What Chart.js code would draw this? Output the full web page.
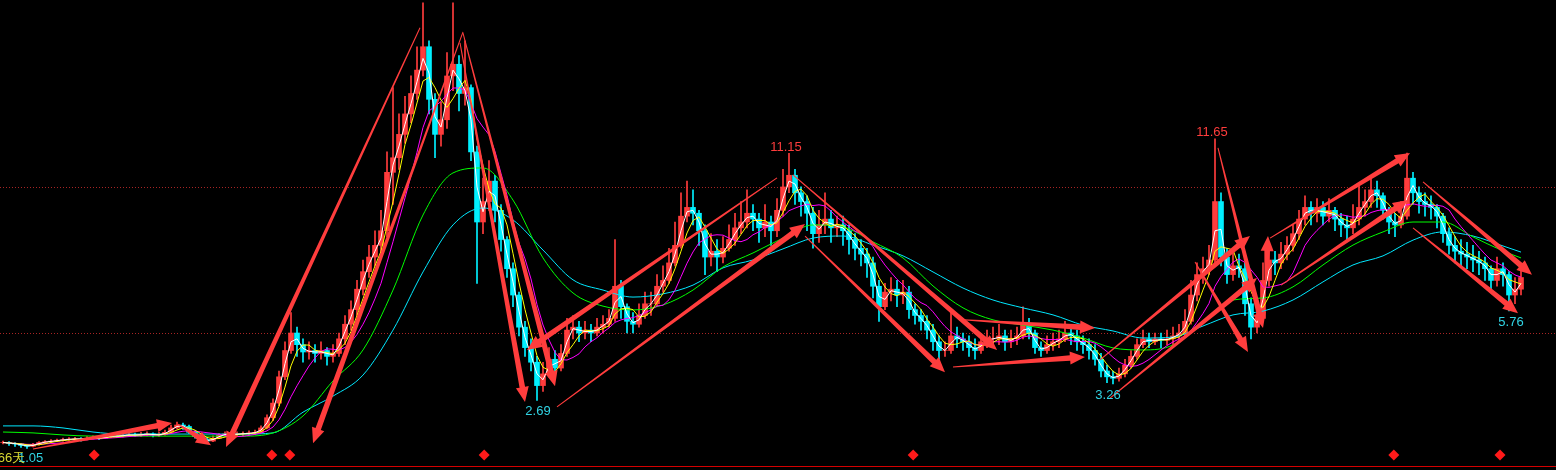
<!DOCTYPE html>
<html>
<head>
<meta charset="utf-8">
<script src="https://cdn.jsdelivr.net/npm/chart.js@4"></script>
<style>
html, body { margin: 0; padding: 0; background: #000; overflow: hidden; }
</style>
</head>
<body>
<canvas id="myChart" width="1556" height="470"></canvas>
<script>
// candle closes, one per bar (open = previous close)
const closes = [
  1.25,1.22,1.2,1.15,1.12,1.18,1.25,1.28,1.3,1.33,
  1.35,1.37,1.38,1.36,1.4,1.42,1.4,1.45,1.48,1.47,
  1.5,1.52,1.5,1.53,1.55,1.5,1.52,1.6,1.75,1.85,
  1.8,1.6,1.45,1.35,1.3,1.4,1.5,1.55,1.52,1.55,
  1.55,1.58,1.6,1.75,2.1,2.6,3.5,4.4,5.0,4.6,
  4.35,4.4,4.3,4.4,4.2,4.3,4.8,5.3,5.8,6.5,
  7.1,7.6,8.0,8.5,10.5,11.0,11.8,12.5,13.2,14.0,
  14.8,13.0,11.8,12.3,13.8,14.2,13.2,13.4,11.2,8.8,
  9.5,10.2,9.2,8.2,7.2,6.3,5.2,4.5,4.0,3.2,
  3.6,4.1,3.8,4.3,5.1,5.2,5.0,5.1,5.0,5.2,
  5.3,5.5,6.6,5.9,5.4,5.3,5.6,6.0,6.0,6.6,
  6.8,7.4,8.0,9.0,9.3,9.1,8.5,7.6,7.8,7.6,
  7.9,8.2,8.6,8.8,9.1,8.9,8.6,8.8,8.5,9.2,
  10.0,10.4,9.8,9.5,9.1,8.4,8.7,8.9,8.6,8.7,
  8.5,8.2,7.9,7.7,7.4,6.6,5.9,6.4,6.5,6.3,
  6.4,5.8,5.6,5.4,5.1,4.7,4.4,4.4,4.9,4.8,
  4.7,4.5,4.4,4.7,4.8,4.8,4.9,4.7,4.8,4.9,
  5.3,5.0,4.5,4.4,4.6,4.7,4.8,5.0,4.9,4.7,
  4.6,4.4,4.1,3.7,3.5,3.45,3.6,3.9,4.2,4.6,
  4.8,4.7,4.8,4.75,4.8,4.9,5.0,5.4,6.3,7.0,
  7.2,7.5,9.5,7.6,7.0,7.3,7.2,6.0,5.2,5.5,
  6.8,7.5,7.4,7.7,8.0,8.4,8.9,9.3,9.1,9.3,
  9.0,9.2,8.9,8.7,8.6,8.9,9.3,9.5,9.9,9.7,
  9.2,8.8,8.7,9.0,10.3,9.8,9.5,9.4,9.3,9.0,
  8.4,8.0,7.8,7.7,7.6,7.5,7.4,7.2,6.8,7.2,
  7.0,6.3,6.5,6.9
];
const highs = [
  1.3,1.28,1.25,1.22,1.18,1.22,1.28,1.32,1.35,1.37,
  1.4,1.42,1.43,1.42,1.45,1.48,1.46,1.5,1.54,1.52,
  1.56,1.58,1.57,1.6,1.62,1.58,1.6,1.68,1.85,1.95,
  1.92,1.85,1.65,1.5,1.42,1.48,1.56,1.62,1.6,1.62,
  1.62,1.65,1.68,1.82,2.2,2.75,3.7,4.7,5.7,5.2,
  4.8,4.7,4.6,4.7,4.5,4.6,5.0,5.6,6.1,6.8,
  7.5,8.0,8.5,9.2,11.2,13.4,12.5,13.1,13.8,14.8,
  16.3,15.0,13.2,12.9,14.6,16.3,14.5,15.0,13.5,11.4,
  10.3,10.9,10.4,9.4,8.3,7.4,6.4,5.4,4.8,4.2,
  4.0,4.5,4.4,4.6,5.5,5.6,5.4,5.4,5.3,5.5,
  5.6,5.8,8.2,6.8,6.0,5.7,6.0,6.4,6.4,7.0,
  7.3,7.9,8.8,9.8,10.2,9.9,9.2,8.7,8.4,8.2,
  8.3,8.7,9.1,9.5,9.9,9.4,9.1,9.4,9.0,9.6,
  10.6,11.15,10.6,10.0,9.7,9.3,9.2,9.8,9.2,9.0,
  9.0,8.7,8.4,8.2,7.9,7.6,6.8,6.7,6.9,6.8,
  6.8,6.6,6.0,5.8,5.6,5.3,4.9,4.7,5.7,5.2,
  5.0,4.9,4.8,4.9,5.1,5.2,5.3,5.1,5.1,5.2,
  5.9,5.5,5.1,4.7,4.9,5.0,5.1,5.4,5.3,5.1,
  4.9,4.8,4.6,4.3,3.9,3.7,3.8,4.1,4.4,4.8,
  5.1,5.0,5.0,5.0,5.1,5.2,5.3,5.8,6.8,7.4,
  7.6,8.0,11.65,9.8,7.9,7.8,7.7,7.4,6.2,5.9,
  7.4,7.9,7.8,8.1,8.3,8.7,9.2,9.7,9.5,9.6,
  9.5,9.6,9.3,9.1,9.0,9.4,10.1,9.9,10.3,10.2,
  9.8,9.3,9.1,9.5,11.16,10.5,10.0,9.8,9.7,9.4,
  9.1,8.6,8.3,8.2,8.1,8.0,7.8,7.6,7.3,7.6,
  7.4,7.1,6.9,7.3
];
const lows = [
  1.2,1.15,1.12,1.08,1.05,1.1,1.16,1.22,1.25,1.28,
  1.3,1.32,1.33,1.3,1.34,1.37,1.35,1.38,1.42,1.42,
  1.44,1.46,1.45,1.46,1.48,1.44,1.46,1.5,1.58,1.72,
  1.7,1.55,1.4,1.28,1.22,1.28,1.38,1.46,1.45,1.48,
  1.48,1.5,1.52,1.58,1.72,2.0,2.5,3.4,4.3,4.2,
  4.0,4.1,4.0,4.1,3.9,4.0,4.2,4.6,5.1,5.6,
  6.3,6.9,7.3,7.7,8.3,9.4,10.6,11.5,12.2,13.0,
  13.8,12.5,11.0,11.4,12.0,13.3,12.6,12.8,10.9,6.7,
  8.4,9.2,8.8,7.8,6.9,5.9,4.9,4.2,3.7,2.69,
  3.0,3.5,3.5,3.7,4.2,4.8,4.7,4.8,4.7,4.9,
  5.0,5.2,5.4,5.5,5.0,5.0,5.2,5.5,5.6,5.9,
  6.4,6.7,7.3,7.9,8.8,8.7,8.0,7.0,7.3,7.1,
  7.4,7.8,8.0,8.4,8.6,8.5,8.1,8.3,8.0,8.3,
  9.0,9.8,9.4,9.0,8.5,7.9,8.1,8.4,8.1,8.3,
  8.0,7.7,7.5,7.3,6.9,6.2,5.4,5.8,6.1,5.9,
  6.0,5.5,5.3,5.1,4.8,4.4,4.1,4.2,4.3,4.5,
  4.4,4.2,4.1,4.3,4.5,4.5,4.6,4.4,4.5,4.6,
  4.8,4.8,4.3,4.2,4.3,4.4,4.5,4.7,4.6,4.4,
  4.3,4.1,3.9,3.5,3.3,3.26,3.35,3.5,3.8,4.1,
  4.5,4.5,4.6,4.5,4.6,4.6,4.8,4.9,5.3,6.1,
  6.7,7.0,7.3,7.3,6.7,6.8,6.9,5.6,4.8,5.0,
  5.4,6.6,7.0,7.2,7.5,7.8,8.2,8.7,8.7,8.8,
  8.7,8.8,8.5,8.3,8.2,8.4,8.7,9.0,9.3,9.3,
  8.9,8.4,8.3,8.6,8.9,9.4,9.1,9.0,8.9,8.6,
  8.1,7.7,7.4,7.3,7.2,7.1,7.0,6.8,6.4,6.6,
  6.6,5.76,6.0,6.3
];

// short moving averages (in bars), computed from closes
const maPeriods = [2, 4, 8];
const maColors = ['#ffffff', '#ffff00', '#ff00ff'];

// the two slow averages at these bar indexes
const slowIdx = [
  0,5,10,15,20,25,30,35,40,45,
  50,55,60,65,70,75,80,85,90,95,
  100,105,110,115,120,125,130,135,140,145,
  150,155,160,165,170,175,180,185,190,195,
  200,205,210,215,220,225,230,235,240,245,
  250,253
];
const greenLine = [
  1.61,1.58,1.51,1.47,1.47,1.47,1.47,1.47,1.47,1.58,
  2.16,3.36,4.42,6.47,9.04,10.48,10.65,9.55,7.57,6.37,
  5.92,5.79,5.96,6.47,7.26,7.74,8.25,8.70,8.63,8.12,
  7.57,6.61,5.86,5.45,5.27,5.10,4.83,4.49,4.42,4.59,
  5.38,6.13,6.20,6.58,7.33,8.01,8.46,8.80,8.80,8.29,
  7.81,7.57
];
const cyanLine = [
  1.82,1.82,1.75,1.61,1.54,1.54,1.54,1.54,1.54,1.58,
  2.29,2.84,3.56,5.10,7.09,8.70,9.28,8.87,7.84,6.82,
  6.47,6.23,6.34,6.64,7.23,7.50,7.88,8.25,8.32,8.01,
  7.64,7.09,6.54,6.13,5.86,5.62,5.27,5.07,4.83,4.86,
  5.24,5.62,5.75,6.13,6.75,7.33,7.64,8.18,8.46,8.32,
  7.98,7.77
];

// red diamond markers along the bottom (bar index), price level they sit at
const diamondIdx = [15.2, 44.8, 47.8, 80.2, 151.7, 231.8, 249.5];
const diamondPrice = 0.82;

// dotted price lines and the bottom border line
const gridPrices = [5, 10];
const baseLinePrice = 0.45;

// hand drawn arrows: [bar index, price] from tail to head
const arrowFrom = [
  [5.0, 1.03], [29.17, 1.88], [69.5, 15.45], [76.67, 15.31], [76.67, 15.27],
  [76.17, 14.93], [129.0, 10.31], [92.33, 2.47], [131.67, 10.41], [133.67, 8.32],
  [160.0, 5.45], [158.33, 3.84], [182.83, 4.08], [184.5, 2.77], [202.5, 11.34],
  [198.67, 7.43], [210.33, 6.47], [211.17, 8.25], [213.0, 6.64], [236.67, 10.17],
  [235.0, 8.60]
];
const arrowTo = [
  [28.17, 1.92], [34.67, 1.16], [37.17, 1.10], [51.67, 1.23], [92.0, 3.18],
  [87.0, 2.64], [87.33, 4.42], [133.67, 8.73], [165.67, 4.42], [157.0, 3.66],
  [182.0, 5.17], [180.33, 4.18], [207.83, 8.32], [209.0, 6.88], [210.0, 5.17],
  [207.5, 4.35], [210.83, 8.32], [234.5, 11.16], [234.17, 9.55], [254.83, 6.99],
  [252.5, 5.68]
];

// price labels
const labelTexts = ['11.15', '11.65', '2.69', '3.26', '5.76', '1.05', '66天'];
const labelIdx = [130.5, 201.5, 89.17, 184.17, 251.33, 4.6, 1.4];
const labelPrice = [11.35, 11.87, 2.31, 2.86, 5.36, 0.70, 0.70];
const labelColors = ['#ff3c3c', '#ff3c3c', '#30d4e4', '#30d4e4', '#30d4e4', '#30d4e4', '#d8d832'];

const UP = '#ff3c3c';
const DOWN = '#00f0ff';

const opens = closes.map((c, i) => i === 0 ? c : closes[i - 1]);
const candleColors = closes.map((c, i) => c >= opens[i] ? UP : DOWN);
const bodies = closes.map((c, i) => ({ x: i, y: [opens[i], c] }));
const wicks = closes.map((c, i) => ({
  x: i,
  y: [Math.min(lows[i], opens[i], c), Math.max(highs[i], opens[i], c)]
}));

movingAvg = (arr, n) => arr.map((v, i) => {
  const s = arr.slice(Math.max(0, i - n + 1), i + 1);
  return s.reduce((a, b) => a + b, 0) / s.length;
});

const maSets = maPeriods.map((n, k) => ({
  type: 'line',
  label: 'MA' + n,
  data: movingAvg(closes, n).map((y, i) => ({ x: i, y })),
  borderColor: maColors[k],
  borderWidth: 1,
  pointRadius: 0,
  tension: 0,
  order: 1 + k
}));

slowSet = (vals, color, order) => ({
  type: 'line',
  label: 'slow',
  data: vals.map((y, k) => ({ x: slowIdx[k], y })),
  borderColor: color,
  borderWidth: 1,
  pointRadius: 0,
  cubicInterpolationMode: 'monotone',
  order
});

drawArrow = (c, x1, y1, x2, y2) => {
  const dx = x2 - x1, dy = y2 - y1, len = Math.hypot(dx, dy);
  const ux = dx / len, uy = dy / len, nx = -uy, ny = ux;
  const head = 15, headW = 6.5, shaftW = 2.8;
  const bx = x2 - ux * head, by = y2 - uy * head;
  c.beginPath();
  c.moveTo(x1 + nx * 0.5, y1 + ny * 0.5);
  c.lineTo(bx + nx * shaftW, by + ny * shaftW);
  c.lineTo(bx + nx * headW, by + ny * headW);
  c.lineTo(x2, y2);
  c.lineTo(bx - nx * headW, by - ny * headW);
  c.lineTo(bx - nx * shaftW, by - ny * shaftW);
  c.lineTo(x1 - nx * 0.5, y1 - ny * 0.5);
  c.closePath();
  c.fill();
};

const backdrop = {
  id: 'backdrop',
  beforeDraw: (chart) => {
    const c = chart.ctx;
    const yS = chart.scales.y;
    c.save();
    c.fillStyle = '#000';
    c.fillRect(0, 0, chart.width, chart.height);
    c.strokeStyle = '#a82424';
    c.lineWidth = 1;
    c.setLineDash([1, 2]);
    gridPrices.forEach(p => {
      const y = Math.round(yS.getPixelForValue(p)) + 0.5;
      c.beginPath(); c.moveTo(0, y); c.lineTo(chart.width, y); c.stroke();
    });
    c.setLineDash([]);
    c.strokeStyle = '#d40000';
    const yb = Math.round(yS.getPixelForValue(baseLinePrice)) + 0.5;
    c.beginPath(); c.moveTo(0, yb); c.lineTo(chart.width, yb); c.stroke();
    c.restore();
  }
};

const annotations = {
  id: 'annotations',
  afterDatasetsDraw: (chart) => {
    const c = chart.ctx;
    const xS = chart.scales.x, yS = chart.scales.y;
    c.save();
    c.fillStyle = '#ff3d3d';
    arrowFrom.forEach((a, k) => {
      const b = arrowTo[k];
      drawArrow(c, xS.getPixelForValue(a[0]), yS.getPixelForValue(a[1]),
                   xS.getPixelForValue(b[0]), yS.getPixelForValue(b[1]));
    });
    c.font = '13px "Liberation Sans", Arial, sans-serif';
    c.textAlign = 'center';
    c.textBaseline = 'middle';
    labelTexts.forEach((t, k) => {
      c.fillStyle = labelColors[k];
      c.fillText(t, xS.getPixelForValue(labelIdx[k]), yS.getPixelForValue(labelPrice[k]));
    });
    c.restore();
  }
};

let ctx = document.getElementById('myChart');
var chart = new Chart(ctx, {
  type: 'bar',
  data: {
    datasets: [
      {
        type: 'line',
        label: 'marks',
        data: diamondIdx.map(x => ({ x, y: diamondPrice })),
        showLine: false,
        pointStyle: 'rectRot',
        pointRadius: 5.5,
        pointBackgroundColor: '#ff1a1a',
        pointBorderWidth: 0,
        clip: false,
        order: 0
      },
      ...maSets,
      slowSet(greenLine, '#00ff00', 5),
      slowSet(cyanLine, '#00e8ff', 6),
      {
        label: 'body',
        data: bodies,
        backgroundColor: candleColors,
        barThickness: 5,
        grouped: false,
        order: 10
      },
      {
        label: 'wick',
        data: wicks,
        backgroundColor: candleColors,
        barThickness: 1,
        grouped: false,
        order: 11
      }
    ]
  },
  options: {
    responsive: false,
    animation: false,
    devicePixelRatio: 1,
    layout: { padding: 0, autoPadding: false },
    plugins: {
      legend: { display: false },
      tooltip: { enabled: false }
    },
    scales: {
      x: { type: 'linear', min: -0.5, max: -0.5 + 1556 / 6, offset: false, display: false },
      y: { min: 0.31, max: 16.40, display: false }
    }
  },
  plugins: [backdrop, annotations]
});
</script>
</body>
</html>
